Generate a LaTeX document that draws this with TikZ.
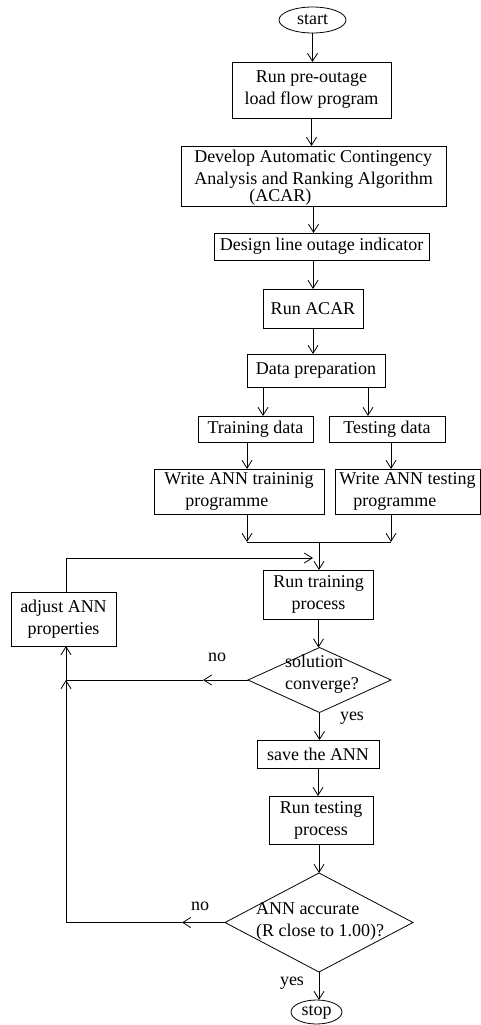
\documentclass[tikz,border=0pt]{standalone}
\usepackage{fontspec}
\setmainfont{Liberation Serif}
\usetikzlibrary{arrows.meta,shapes.geometric}
\begin{document}
\begin{tikzpicture}[x=1pt,y=-1pt,
  font=\fontsize{18}{22}\selectfont,
  every node/.style={inner sep=0pt, outer sep=0pt},
  box/.style={draw, rectangle, line width=0.8pt},
  oval/.style={draw, ellipse, line width=0.8pt},
  dia/.style={draw, diamond, line width=0.8pt},
  link/.style={line width=0.8pt},
  arr/.style={link, -{Straight Barb[length=8pt,width=10pt]}},
]
\useasboundingbox (0,0) rectangle (481,1025);

% main column
\node[oval, minimum width=67pt, minimum height=26pt] (start) at (312.5,20) {start};
\node[box, minimum width=159pt, minimum height=56pt, align=center] (b1) at (311.5,90) {Run pre-outage\\load flow program};
\node[box, minimum width=265pt, minimum height=60pt] (b2) at (313.5,176) {};
\node[align=left] (b2t) at (313.5,178)
  {Develop Automatic Contingency\\Analysis and Ranking Algorithm\\[-5pt]\hspace*{55pt}(ACAR)};
\node[box, minimum width=215pt, minimum height=27pt] (b3) at (321.5,246.5) {Design line outage indicator};
\node[box, minimum width=100pt, minimum height=39pt] (b4) at (313,308.5) {Run ACAR};
\node[box, minimum width=138pt, minimum height=33pt] (b5) at (316,370.5) {Data preparation};
\node[box, minimum width=115pt, minimum height=26pt] (b6) at (255.5,429) {Training data};
\node[box, minimum width=116pt, minimum height=26pt] (b7) at (387,429) {Testing data};
\node[box, minimum width=170pt, minimum height=45pt, align=left] (b8) at (239,491.5) {Write ANN traininig\\\hspace*{21pt}programme};
\node[box, minimum width=145pt, minimum height=45pt, align=left] (b9) at (407.5,491.5) {Write ANN testing\\\hspace*{14pt}programme};
\node[box, minimum width=110pt, minimum height=49pt, align=center] (b10) at (318.5,594.5) {Run training\\process};
\node[box, minimum width=105pt, minimum height=54pt, align=center] (b11) at (63.5,619) {adjust ANN\\properties};
\node[dia, minimum width=143pt, minimum height=65pt] (d1) at (319.5,680) {};
\node[align=left] (d1t) at (322,674) {solution\\converge?};
\node[box, minimum width=122pt, minimum height=28pt] (b12) at (318,754) {save the ANN};
\node[box, minimum width=104pt, minimum height=48pt, align=center] (b13) at (321,820) {Run testing\\process};
\node[dia, minimum width=188pt, minimum height=99pt] (d2) at (319,922.5) {};
\node[align=left] (d2t) at (320,921) {ANN accurate\\(R close to 1.00)?};
\node[oval, minimum width=51pt, minimum height=24pt] (stop) at (316.5,1012) {stop};

% branch labels
\node (no1) at (217,657) {no};
\node (yes1) at (352,718) {yes};
\node (no2) at (200,906) {no};
\node (yes2) at (292,983) {yes};

% helper points
\coordinate (f1) at ([xshift=16pt]b5.south west);
\coordinate (f2) at ([xshift=-17pt]b5.south east);
\coordinate (m1) at (247,542);
\coordinate (m2) at (391,542);
\coordinate (j0) at (319,542);
\coordinate (t1) at (313,558);
\coordinate (c1) at (66,558);
\coordinate (a1) at (203,680);
\coordinate (j1) at (66,680);
\coordinate (a2) at (182,922.5);
\coordinate (j2) at (66,922.5);

% connectors
\draw[arr] (start.south) -- (start.south |- b1.north);
\draw[arr] (b1.south) -- (b1.south |- b2.north);
\draw[arr] (b2.south) -- (b2.south |- b3.north);
\draw[arr] (b4.north |- b3.south) -- (b4.north);
\draw[arr] (b4.south) -- (b4.south |- b5.north);
\draw[arr] (f1) -- (f1 |- b6.north);
\draw[arr] (f2) -- (f2 |- b7.north);
\draw[arr] (m1 |- b6.south) -- (m1 |- b8.north);
\draw[arr] (m2 |- b7.south) -- (m2 |- b9.north);
\draw[arr] (m1 |- b8.south) -- (m1);
\draw[arr] (m2 |- b9.south) -- (m2);
\draw[link] (m1) -- (m2);
\draw[arr] (j0) -- (j0 |- b10.north);
\draw[arr] (c1 |- b11.north) -- (c1) -- (t1);
\draw[arr] (b10.south) -- (b10.south |- d1.north);
\draw[arr] (d1.west) -- (a1);
\draw[link] (a1) -- (j1);
\draw[arr] (j1) -- (j1 |- b11.south);
\draw[arr] (d1.south) -- (d1.south |- b12.north);
\draw[arr] (b12.south) -- (b12.south |- b13.north);
\draw[arr] (b13.south -| d2.north) -- (d2.north);
\draw[arr] (d2.west) -- (a2);
\draw[link] (a2) -- (j2);
\draw[arr] (j2) -- (j1);
\draw[arr] (d2.south) -- (d2.south |- stop.north);
\end{tikzpicture}
\end{document}
